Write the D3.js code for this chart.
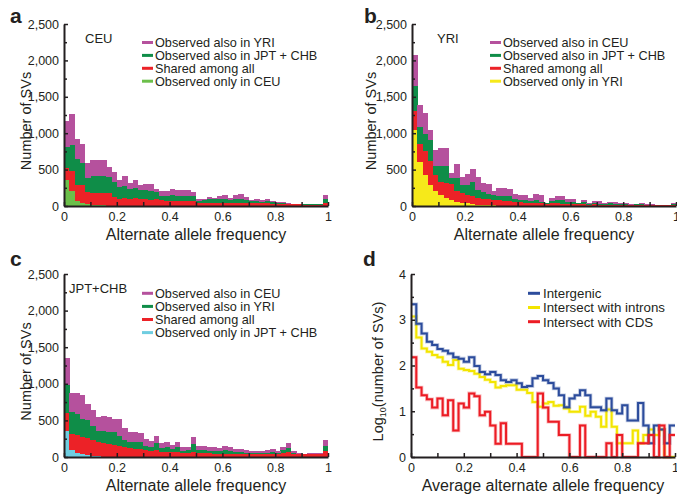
<!DOCTYPE html>
<html lang="en">
<head>
<meta charset="UTF-8">
<title>SV allele frequency spectra</title>
<script src="https://d3js.org/d3.v7.min.js"></script>
<style>
  body { margin: 0; background: #fff; }
  svg text { font-family: 'Liberation Sans', Arial, Helvetica, sans-serif; fill: #231f20; }
  .axis path { stroke: #231f20; stroke-width: 2px; }
  .axis line { stroke: #231f20; stroke-width: 1.5px; }
  .axis text { font-size: 12.5px; }
  .minor path { display: none; }
</style>
</head>
<body>
<svg id="fig" width="677" height="495"></svg>
<script>
// 50 frequency bins of width 0.02
const binStart = d3.range(50).map(i => i / 50);

// panel a, CEU (stack bottom -> top)
const ceuOnly = [355,200,70,45,25,15,10,8,5,5, 3,3,2,2,2,1,1,1,1,1, 0,0,0,0,0,0,0,0,0,0, 0,0,0,0,0,0,0,0,0,0, 0,0,0,0,0,0,0,0,0,0];
const ceuShared = [170,280,225,250,170,165,170,172,175,120, 97,107,98,113,88,89,84,94,79,69, 65,70,70,65,65,40,45,45,40,45, 45,40,45,45,40,35,35,35,35,30, 30,30,28,25,22,20,20,20,20,45];
const ceuAlsoJpt = [285,355,355,300,195,230,235,235,220,205, 160,160,140,135,135,125,125,100,55,65, 80,70,70,75,70,35,35,45,50,50, 50,40,50,50,40,30,35,25,30,20, 15,10,4,3,3,4,4,4,4,50];
const ceuAlsoYri = [360,425,275,255,200,220,215,215,140,140, 95,140,80,110,60,85,90,45,65,65, 85,85,85,75,60,15,20,35,20,40, 50,35,50,65,45,15,25,20,25,15, 10,15,8,2,3,4,4,4,4,50];

// panel b, YRI
const yriOnly = [1040,600,420,290,200,150,110,85,60,45, 35,25,20,15,10,8,6,5,4,3, 2,2,1,1,1,0,0,0,0,0, 0,0,0,0,0,0,0,0,0,0, 0,0,0,0,0,0,0,0,0,0];
const yriShared = [260,250,330,330,220,180,210,215,140,135, 115,115,90,85,85,77,74,70,66,52, 48,43,39,39,34,30,35,35,30,30, 30,25,25,20,25,20,20,20,18,18, 15,15,15,15,12,12,10,10,10,15];
const yriAlsoJpt = [345,235,245,290,130,220,230,85,185,115, 145,190,115,95,75,60,55,60,65,45, 30,40,30,40,25,10,35,45,50,30, 30,10,25,10,20,5,10,20,7,7, 7,5,10,10,8,6,5,5,5,10];
const yriAlsoCeu = [430,300,285,130,215,250,250,65,190,105, 140,185,175,120,135,55,115,115,105,70, 65,70,45,80,97,7,40,53,53,41, 41,13,28,5,28,48,5,19,34,10, 13,10,5,22,10,12,5,5,5,10];

// panel c, JPT+CHB
const jptOnly = [360,90,60,40,25,15,10,5,3,2, 1,1,0,0,0,0,0,0,0,0, 0,0,0,0,0,0,0,0,0,0, 0,0,0,0,0,0,0,0,0,0, 0,0,0,0,0,0,0,0,0,0];
const jptShared = [240,220,240,240,235,215,190,185,177,168, 149,129,120,115,110,100,80,90,70,75, 65,75,55,55,70,55,50,50,45,45, 45,40,40,40,40,40,40,40,40,45, 40,50,65,40,35,35,35,40,40,80];
const jptAlsoYri = [385,310,290,240,240,190,160,170,160,170, 140,105,80,85,90,55,50,105,50,55, 45,55,25,35,110,35,40,35,40,35, 45,40,30,30,20,15,15,15,20,30, 15,40,60,15,5,5,5,5,5,70];
const jptAlsoCeu = [365,260,280,330,220,220,190,200,210,180, 235,165,140,140,130,95,90,95,65,70, 60,80,50,40,100,60,55,45,45,40, 60,55,40,45,35,25,25,25,35,35, 25,40,65,30,15,5,10,15,15,80];

// panel d, log10 counts by genomic context
const intergenic = [3.34,2.91,2.70,2.52,2.45,2.36,2.32,2.26,2.18,2.15, 2.08,2.18,1.99,1.86,1.81,1.86,1.79,1.68,1.64,1.68, 1.61,1.53,1.55,1.72,1.77,1.68,1.62,1.50,1.35,1.09, 1.28,1.35,1.46,1.35,1.09,1.09,1.02,1.28,1.02,0.95, 1.13,0.80,0.80,1.18,0.69,0.30,0.69,0.60,0.30,0.69];
const introns = [3.07,2.61,2.37,2.30,2.23,2.18,2.08,2.01,2.12,1.93, 1.90,1.88,1.82,1.75,1.69,1.64,1.52,1.55,1.57,1.57, 1.47,1.47,1.40,1.20,1.10,1.17,1.20,1.12,1.13,1.06, 0.99,0.99,1.10,0.90,0.99,0.88,0.66,1.04,0.66,0.30, 0.30,0.30,0.58,0.30,0.48,0.60,0.48,0.60,0,0];
const cds = [2.18,1.52,1.35,1.26,1.08,1.28,0.91,1.24,0.58,1.17, 1.08,1.39,1.33,0.91,0.99,0.69,0.29,0.74,0.29,0.29, 0.29,0,0,0,1.39,1.08,0.77,0.77,0.48,0.48, 0,0,0.69,0,0,0,0,0.30,0,0.48, 0,0,0,0.30,0.30,0.48,0,0.69,0,0.48];

const C = {
  magenta: "#b5519d", green: "#0f8d48", red: "#ec2227",
  lime: "#6cbf4a", yellow: "#f6e91a", cyan: "#6fcde0",
  blue: "#2c4c9c", lyellow: "#f3e500", lred: "#ec1c24"
};

const svg = d3.select("#fig");
const fmtX = d => (d === 0 || d === 1) ? d : d.toFixed(1);

function drawAxes(g, x, y, yMajor, yMinor, yFmt) {
  g.append("g").attr("class", "axis minor")
    .attr("transform", `translate(0,${y.range()[0]})`)
    .call(d3.axisBottom(x).tickValues([0.1,0.3,0.5,0.7,0.9]).tickSize(-4).tickFormat(""));
  g.append("g").attr("class", "axis minor")
    .attr("transform", `translate(${x.range()[0]},0)`)
    .call(d3.axisLeft(y).tickValues(yMinor).tickSize(-3).tickFormat(""));
  g.append("g").attr("class", "axis")
    .attr("transform", `translate(0,${y.range()[0]})`)
    .call(d3.axisBottom(x).tickValues([0,0.2,0.4,0.6,0.8,1]).tickSize(-4).tickSizeOuter(0).tickPadding(6).tickFormat(fmtX));
  g.append("g").attr("class", "axis")
    .attr("transform", `translate(${x.range()[0]},0)`)
    .call(d3.axisLeft(y).tickValues(yMajor).tickSize(-4).tickSizeOuter(0).tickPadding(5).tickFormat(yFmt));
}

function letter(txt, x, y) {
  svg.append("text").attr("x", x).attr("y", y).text(txt)
    .style("font-size", "21px").style("font-weight", "bold");
}

function axisTitles(g, x, y, xText, yLabelX, yText) {
  const [x0, x1] = x.range();
  g.append("text").attr("x", (x0 + x1) / 2).attr("y", y.range()[0] + 34)
    .attr("text-anchor", "middle").style("font-size", "16px").text(xText);
  const yl = g.append("text")
    .attr("transform", `translate(${yLabelX},${(y.range()[0] + y.range()[1]) / 2 + 6}) rotate(-90)`)
    .attr("text-anchor", "middle").style("font-size", "14.5px");
  if (typeof yText === "string") yl.text(yText);
  else yText(yl);
}

function stackedPanel(p) {
  const g = svg.append("g");
  const x = d3.scaleLinear().domain([0, 1]).range([p.x0, p.x1]);
  const y = d3.scaleLinear().domain([0, 2500]).range([p.yBot, p.yTop]);
  const keys = p.layers.map(l => l.key);
  const rows = binStart.map((b, i) => {
    const r = { bin: b };
    p.layers.forEach(l => { r[l.key] = l.values[i]; });
    return r;
  });
  const series = d3.stack().keys(keys)(rows);
  const bw = x(0.02) - x(0);

  g.selectAll("g.layer").data(series).join("g")
    .attr("class", "layer")
    .attr("fill", (s, i) => p.layers[i].color)
    .selectAll("rect").data(s => s).join("rect")
    .attr("x", d => x(d.data.bin))
    .attr("width", bw + 0.3)
    .attr("y", d => y(d[1]))
    .attr("height", d => Math.max(0, y(d[0]) - y(d[1])))
    .attr("shape-rendering", "crispEdges");

  drawAxes(g, x, y, [0,500,1000,1500,2000,2500], [250,750,1250,1750,2250], d3.format(","));

  g.append("text").attr("x", p.titleX).attr("y", p.titleY)
    .style("font-size", "13px").text(p.title);

  // legend, top entry is the top of the stack
  const leg = p.layers.slice().reverse();
  leg.forEach((l, i) => {
    const cy = p.legY + i * p.legStep;
    g.append("rect").attr("x", p.legX).attr("y", cy - 1.5).attr("width", 11).attr("height", 3).attr("fill", l.color);
    g.append("text").attr("x", p.legX + 13).attr("y", cy + 4.3)
      .style("font-size", "12.7px").text(l.label);
  });

  axisTitles(g, x, y, "Alternate allele frequency", p.yLabelX, "Number of SVs");
}

stackedPanel({
  x0: 64, x1: 328, yTop: 24, yBot: 206,
  title: "CEU", titleX: 85, titleY: 43,
  legX: 142, legY: 42.5, legStep: 12.9, yLabelX: 31,
  layers: [
    { key: "only", values: ceuOnly, color: C.lime, label: "Observed only in CEU" },
    { key: "shared", values: ceuShared, color: C.red, label: "Shared among all" },
    { key: "jpt", values: ceuAlsoJpt, color: C.green, label: "Observed also in JPT + CHB" },
    { key: "yri", values: ceuAlsoYri, color: C.magenta, label: "Observed also in YRI" }
  ]
});

stackedPanel({
  x0: 412, x1: 676, yTop: 24, yBot: 206,
  title: "YRI", titleX: 437, titleY: 43,
  legX: 490, legY: 42.5, legStep: 12.9, yLabelX: 376,
  layers: [
    { key: "only", values: yriOnly, color: C.yellow, label: "Observed only in YRI" },
    { key: "shared", values: yriShared, color: C.red, label: "Shared among all" },
    { key: "jpt", values: yriAlsoJpt, color: C.green, label: "Observed also in JPT + CHB" },
    { key: "ceu", values: yriAlsoCeu, color: C.magenta, label: "Observed also in CEU" }
  ]
});

stackedPanel({
  x0: 64, x1: 328, yTop: 274, yBot: 457,
  title: "JPT+CHB", titleX: 69, titleY: 293,
  legX: 142, legY: 293.3, legStep: 13.1, yLabelX: 31,
  layers: [
    { key: "only", values: jptOnly, color: C.cyan, label: "Observed only in JPT + CHB" },
    { key: "shared", values: jptShared, color: C.red, label: "Shared among all" },
    { key: "yri", values: jptAlsoYri, color: C.green, label: "Observed also in YRI" },
    { key: "ceu", values: jptAlsoCeu, color: C.magenta, label: "Observed also in CEU" }
  ]
});

// panel d
(function () {
  const g = svg.append("g");
  const x = d3.scaleLinear().domain([0, 1]).range([411, 675]);
  const y = d3.scaleLinear().domain([0, 4]).range([457, 274]);
  const lines = [
    { values: introns, color: C.lyellow, label: "Intersect with introns" },
    { values: intergenic, color: C.blue, label: "Intergenic" },
    { values: cds, color: C.lred, label: "Intersect with CDS" }
  ];
  const line = d3.line().x(d => x(d[0])).y(d => y(d[1])).curve(d3.curveStepAfter);
  lines.forEach(l => {
    const pts = binStart.map((b, i) => [b, l.values[i]]);
    pts.push([1, l.values[l.values.length - 1]]);
    g.append("path").attr("d", line(pts)).attr("fill", "none")
      .attr("stroke", l.color).attr("stroke-opacity", 0.3).attr("stroke-width", 3.6);
    g.append("path").attr("d", line(pts)).attr("fill", "none")
      .attr("stroke", l.color).attr("stroke-width", 2);
  });

  drawAxes(g, x, y, [0,1,2,3,4], [0.5,1.5,2.5,3.5], d3.format("d"));

  const legOrder = [lines[1], lines[0], lines[2]];
  legOrder.forEach((l, i) => {
    const cy = 293.3 + i * 14.2;
    g.append("rect").attr("x", 528).attr("y", cy - 1.5).attr("width", 12).attr("height", 3).attr("fill", l.color);
    g.append("text").attr("x", 543).attr("y", cy + 4.8)
      .style("font-size", "13.3px").text(l.label);
  });

  axisTitles(g, x, y, "Average alternate allele frequency", 383, t => {
    t.append("tspan").text("Log");
    t.append("tspan").attr("dy", 3).style("font-size", "9px").text("10");
    t.append("tspan").attr("dy", -3).text("(number of SVs)");
  });
})();

letter("a", 10, 23);
letter("b", 364, 23);
letter("c", 10, 266);
letter("d", 363, 266);
</script>
</body>
</html>
